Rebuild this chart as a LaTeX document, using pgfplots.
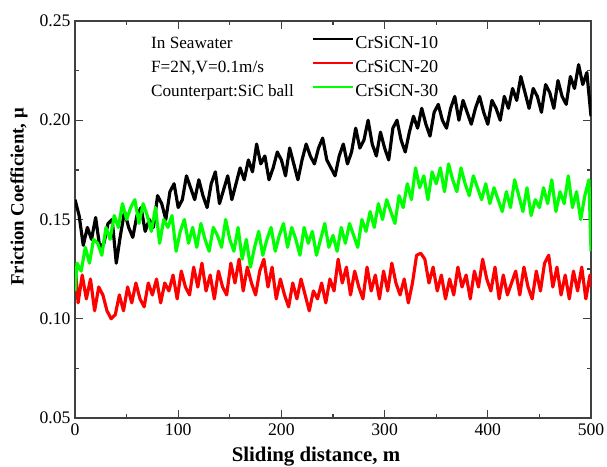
\documentclass[border=0pt]{standalone}
\usepackage{pgfplots}
\pgfplotsset{compat=1.18}
\usepackage{fontspec}
\setmainfont{Liberation Serif}
\begin{document}
\begin{tikzpicture}
\begin{axis}[
  scale only axis,
  width=309.6pt, height=238.2pt,
  xmin=0, xmax=500, ymin=0.05, ymax=0.25,
  xtick={0,100,200,300,400,500},
  ytick={0.05,0.10,0.15,0.20,0.25},
  minor x tick num=1, minor y tick num=1,
  tick align=inside,
  major tick length=5pt, minor tick length=2.5pt,
  tick style={line width=0.8pt, color=black!75},
  axis line style={line width=0.9pt, color=black!75},
  yticklabel style={/pgf/number format/fixed, /pgf/number format/fixed zerofill, /pgf/number format/precision=2, xshift=0.8pt},
  /pgf/number format/assume math mode=true,
  ticklabel style={font=\fontsize{10.6}{12}\selectfont},
  scaled y ticks=false,
  xlabel={\textbf{Sliding distance, m}},
  ylabel={\textbf{Friction Coefficient, μ}},
  xlabel style={font=\fontsize{12.5}{14}\selectfont, at={(axis description cs:0.467,0)}, anchor=base, yshift=-26pt},
  ylabel style={font=\fontsize{11.3}{13}\selectfont, at={(axis description cs:-0.1085,0.557)}, anchor=center},
  legend style={draw=none, fill=none, at={(rel axis cs:0.458,0.969)}, anchor=north west,
    font=\fontsize{10.9}{12}\selectfont, inner sep=0pt, row sep=2pt,
    nodes={inner sep=1pt, text height=8pt, text depth=2.4pt}},
  legend cell align=left,
  legend image code/.code={\draw[#1, line width=1.3pt] (0pt,3.0pt) -- (24pt,3.0pt);},
  every axis plot/.append style={line width=1.9pt, line join=round},
]
\addplot[black] coordinates {
(0,0.160)(4,0.152)(8,0.137)(12,0.146)(16,0.140)(20,0.151)(24,0.136)(28,0.138)(32,0.148)(36,0.150)
(40,0.128)(44,0.142)(48,0.154)(52,0.146)(56,0.141)(60,0.152)(64,0.156)(68,0.144)(72,0.150)(76,0.146)
(80,0.162)(84,0.158)(88,0.150)(92,0.164)(96,0.168)(100,0.156)(104,0.160)(108,0.172)(112,0.166)(116,0.160)
(120,0.170)(124,0.162)(128,0.156)(132,0.168)(136,0.174)(140,0.158)(144,0.165)(148,0.172)(152,0.160)(156,0.168)
(160,0.176)(164,0.170)(168,0.180)(172,0.174)(176,0.188)(180,0.178)(184,0.182)(188,0.170)(192,0.176)(196,0.184)
(200,0.180)(204,0.172)(208,0.186)(212,0.178)(216,0.170)(220,0.180)(224,0.188)(228,0.182)(232,0.178)(236,0.186)
(240,0.191)(244,0.180)(248,0.176)(252,0.172)(256,0.182)(260,0.188)(264,0.178)(268,0.184)(272,0.196)(276,0.186)
(280,0.190)(284,0.200)(288,0.188)(292,0.182)(296,0.194)(300,0.186)(304,0.180)(308,0.196)(312,0.200)(316,0.190)
(320,0.184)(324,0.194)(328,0.202)(332,0.196)(336,0.206)(340,0.198)(344,0.192)(348,0.204)(352,0.208)(356,0.200)
(360,0.196)(364,0.206)(368,0.212)(372,0.200)(376,0.210)(380,0.204)(384,0.198)(388,0.206)(392,0.212)(396,0.204)
(400,0.198)(404,0.210)(408,0.206)(412,0.200)(416,0.212)(420,0.206)(424,0.216)(428,0.210)(432,0.222)(436,0.214)
(440,0.206)(444,0.216)(448,0.212)(452,0.204)(456,0.218)(460,0.214)(464,0.206)(468,0.220)(472,0.212)(476,0.208)
(480,0.222)(484,0.216)(488,0.228)(492,0.218)(496,0.224)(500,0.202)
};
\addlegendentry{CrSiCN-10}
\addplot[red] coordinates {
(0,0.128)(3,0.108)(7,0.122)(11,0.110)(15,0.120)(19,0.104)(23,0.116)(27,0.112)(31,0.104)(35,0.100)
(39,0.102)(43,0.112)(47,0.104)(51,0.116)(55,0.108)(59,0.118)(63,0.110)(67,0.106)(71,0.118)(75,0.112)
(79,0.120)(83,0.108)(87,0.118)(91,0.114)(95,0.122)(99,0.110)(103,0.124)(107,0.116)(111,0.112)(115,0.126)
(119,0.116)(123,0.128)(127,0.114)(131,0.122)(135,0.110)(139,0.124)(143,0.116)(147,0.112)(151,0.128)(155,0.118)
(159,0.130)(163,0.114)(167,0.126)(171,0.118)(175,0.112)(179,0.124)(183,0.130)(187,0.116)(191,0.126)(195,0.110)
(199,0.120)(203,0.112)(207,0.106)(211,0.118)(215,0.110)(219,0.120)(223,0.112)(227,0.104)(231,0.114)(235,0.110)
(239,0.118)(243,0.108)(247,0.120)(251,0.114)(255,0.130)(259,0.118)(263,0.126)(267,0.112)(271,0.124)(275,0.116)
(279,0.110)(283,0.126)(287,0.114)(291,0.122)(295,0.110)(299,0.124)(303,0.114)(307,0.128)(311,0.118)(315,0.112)
(319,0.120)(323,0.108)(327,0.118)(331,0.132)(335,0.133)(339,0.130)(343,0.118)(347,0.126)(351,0.114)(355,0.122)
(359,0.110)(363,0.120)(367,0.112)(371,0.126)(375,0.116)(379,0.122)(383,0.110)(387,0.124)(391,0.116)(395,0.130)
(399,0.120)(403,0.114)(407,0.126)(411,0.110)(415,0.122)(419,0.112)(423,0.118)(427,0.124)(431,0.112)(435,0.126)
(439,0.116)(443,0.110)(447,0.124)(451,0.114)(455,0.128)(459,0.132)(463,0.116)(467,0.126)(471,0.112)(475,0.122)
(479,0.110)(483,0.124)(487,0.114)(491,0.126)(495,0.110)(499,0.122)(500,0.116)
};
\addlegendentry{CrSiCN-20}
\addplot[green] coordinates {
(0,0.114)(2,0.128)(6,0.124)(10,0.136)(14,0.128)(18,0.140)(22,0.138)(26,0.132)(30,0.146)(34,0.140)
(38,0.152)(42,0.146)(46,0.158)(50,0.150)(54,0.156)(58,0.160)(62,0.148)(66,0.158)(70,0.152)(74,0.144)
(78,0.156)(82,0.138)(86,0.150)(90,0.146)(94,0.152)(98,0.134)(102,0.144)(106,0.150)(110,0.138)(114,0.146)
(118,0.136)(122,0.148)(126,0.140)(130,0.134)(134,0.146)(138,0.142)(142,0.136)(146,0.150)(150,0.140)(154,0.134)
(158,0.146)(162,0.130)(166,0.140)(170,0.126)(174,0.136)(178,0.144)(182,0.132)(186,0.140)(190,0.146)(194,0.134)
(198,0.142)(202,0.148)(206,0.136)(210,0.146)(214,0.140)(218,0.132)(222,0.146)(226,0.138)(230,0.144)(234,0.132)
(238,0.140)(242,0.148)(246,0.136)(250,0.142)(254,0.134)(258,0.146)(262,0.138)(266,0.148)(270,0.142)(274,0.136)
(278,0.150)(282,0.144)(286,0.154)(290,0.146)(294,0.158)(298,0.150)(302,0.160)(306,0.154)(310,0.148)(314,0.162)
(318,0.156)(322,0.168)(326,0.160)(330,0.176)(334,0.166)(338,0.172)(342,0.160)(346,0.174)(350,0.168)(354,0.176)
(358,0.164)(362,0.178)(366,0.170)(370,0.164)(374,0.176)(378,0.168)(382,0.162)(386,0.172)(390,0.166)(394,0.160)
(398,0.168)(402,0.158)(406,0.166)(410,0.160)(414,0.154)(418,0.164)(422,0.156)(426,0.170)(430,0.162)(434,0.154)
(438,0.166)(442,0.152)(446,0.160)(450,0.156)(454,0.166)(458,0.158)(462,0.170)(466,0.154)(470,0.164)(474,0.158)
(478,0.172)(482,0.156)(486,0.164)(490,0.150)(494,0.162)(498,0.170)(500,0.134)
};
\addlegendentry{CrSiCN-30}
\node[anchor=base west, inner sep=0pt, font=\fontsize{10.3}{12}\selectfont] at (rel axis cs:0.147,0.931) {In Seawater};
\node[anchor=base west, inner sep=0pt, font=\fontsize{10.3}{12}\selectfont] at (rel axis cs:0.147,0.870) {F=2N,V=0.1m/s};
\node[anchor=base west, inner sep=0pt, font=\fontsize{10.3}{12}\selectfont] at (rel axis cs:0.147,0.811) {Counterpart:SiC ball};
\end{axis}
\pgfresetboundingbox
\path[use as bounding box] ([xshift=-45pt,yshift=-28.8pt]current axis.south west) rectangle ([xshift=9.6pt,yshift=12.6pt]current axis.north east);
\end{tikzpicture}
\end{document}
